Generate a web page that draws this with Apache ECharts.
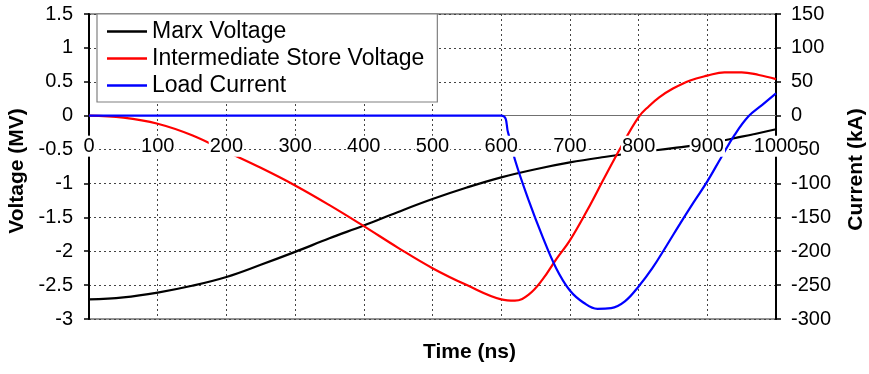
<!DOCTYPE html>
<html>
<head>
<meta charset="utf-8">
<script src="https://cdn.jsdelivr.net/npm/echarts@6/dist/echarts.min.js"></script>
<style>
  html, body { margin: 0; padding: 0; background: #fff; }
  #chart { width: 869px; height: 374px; }
</style>
</head>
<body>
<div id="chart"></div>
<script>
// Time base (ns) and traces
const timeTicks = [0, 100, 200, 300, 400, 500, 600, 700, 800, 900, 1000];
const voltageTicks = [-3, -2.5, -2, -1.5, -1, -0.5, 0, 0.5, 1, 1.5];
const currentTicks = [-300, -250, -200, -150, -100, -50, 0, 50, 100, 150];

const marxTime = [0, 50, 100, 150, 200, 250, 300, 350, 400, 450, 500, 550, 600, 650, 700, 750, 800, 850, 900, 950, 1000];
const marxVoltage = [-2.71, -2.68, -2.61, -2.51, -2.38, -2.20, -2.01, -1.81, -1.62, -1.42, -1.23, -1.06, -0.91, -0.79, -0.69, -0.61, -0.54, -0.48, -0.41, -0.31, -0.20];

const storeTime = [0, 50, 100, 150, 200, 250, 300, 350, 400, 450, 500, 550, 600, 620, 640, 660, 680, 700, 725, 750, 775, 800, 815, 830, 850, 875, 900, 925, 950, 975, 1000];
const storeVoltage = [0, -0.03, -0.12, -0.29, -0.53, -0.77, -1.03, -1.32, -1.63, -1.95, -2.25, -2.50, -2.71, -2.73, -2.64, -2.42, -2.12, -1.84, -1.40, -0.92, -0.45, -0.02, 0.14, 0.27, 0.40, 0.52, 0.59, 0.64, 0.64, 0.60, 0.54];

const loadTime = [0, 600, 610, 620, 640, 660, 680, 700, 720, 740, 760, 780, 800, 820, 840, 860, 880, 900, 920, 940, 960, 980, 1000];
const loadCurrent = [0, 0, -25, -65, -125, -178, -225, -258, -276, -285, -284, -274, -252, -225, -193, -160, -128, -97, -62, -28, -1, 16, 33];

const seriesNames = ['Marx Voltage', 'Intermediate Store Voltage', 'Load Current'];

function pairs(xs, ys) { return xs.map((x, i) => [x, ys[i]]); }

const FONT = 'Liberation Sans, Arial, sans-serif';
const gridDots = { show: true, lineStyle: { color: '#444', width: 1, type: [2, 3] } };

// plot box
const GRID = { left: 89, right: 93, top: 14, bottom: 55 };
const plotHeight = 374 - GRID.top - GRID.bottom;
const vMin = voltageTicks[0], vMax = voltageTicks[voltageTicks.length - 1];
// distance from the bottom edge up to the zero line, so time labels sit on it
const zeroLift = plotHeight * (0 - vMin) / (vMax - vMin);

const chart = echarts.init(document.getElementById('chart'), null, { renderer: 'canvas' });
chart.setOption({
  animation: false,
  backgroundColor: '#fff',
  textStyle: { fontFamily: FONT },
  grid: Object.assign({
    containLabel: false, outerBoundsMode: 'none',
    show: true, borderColor: '#707070', borderWidth: 1.5, backgroundColor: 'transparent'
  }, GRID),
  legend: {
    orient: 'vertical', left: 97, top: 14,
    backgroundColor: '#fff', borderColor: '#808080', borderWidth: 1.2,
    padding: [6, 13, 5, 10],
    icon: 'rect', itemWidth: 40, itemHeight: 2.5, itemGap: 4,
    textStyle: { fontFamily: FONT, fontSize: 23, lineHeight: 23, color: '#000' },
    data: seriesNames
  },
  xAxis: [
    {
      type: 'value', min: 0, max: 1000, interval: 100,
      axisLine: { show: true, onZero: true, lineStyle: { color: '#707070', width: 1.2 } },
      axisTick: { show: false }, axisLabel: { show: false },
      splitLine: gridDots
    },
    {
      type: 'value', min: 0, max: 1000, interval: 100, z: 10,
      position: 'bottom', offset: -zeroLift,
      axisLine: { show: false, onZero: false },
      axisTick: { show: false }, splitLine: { show: false },
      axisLabel: {
        margin: 20, fontFamily: FONT, fontSize: 20, color: '#000',
        backgroundColor: '#fff', padding: [1, 1, 0, 1],
        customValues: timeTicks,
        formatter: (v) => String(v)
      }
    }
  ],
  yAxis: [
    {
      type: 'value', min: vMin, max: vMax, interval: 0.5,
      name: 'Voltage (MV)', nameLocation: 'middle', nameGap: 57, nameRotate: 90,
      nameTextStyle: { fontFamily: FONT, fontSize: 21, fontWeight: 'bold', color: '#000', padding: [0, 9, 0, 0] },
      axisLine: { show: true, onZero: false, lineStyle: { color: '#000', width: 2 } },
      axisTick: { show: true, inside: false, length: 5, lineStyle: { color: '#000', width: 1.5 } },
      axisLabel: { margin: 16, fontFamily: FONT, fontSize: 20, color: '#000', customValues: voltageTicks },
      splitLine: gridDots
    },
    {
      type: 'value', position: 'right', min: -300, max: 150, interval: 50,
      name: 'Current (kA)', nameLocation: 'middle', nameGap: 70, nameRotate: 90,
      nameTextStyle: { fontFamily: FONT, fontSize: 21, fontWeight: 'bold', color: '#000', padding: [0, 6, 0, 0] },
      axisLine: { show: true, onZero: false, lineStyle: { color: '#000', width: 2 } },
      axisTick: { show: true, inside: false, length: 5, lineStyle: { color: '#000', width: 1.5 } },
      axisLabel: { margin: 15, fontFamily: FONT, fontSize: 20, color: '#000', customValues: currentTicks },
      splitLine: { show: false }
    }
  ],
  graphic: [{
    type: 'text', left: 423, top: 342,
    style: { text: 'Time (ns)', font: 'bold 21px ' + FONT, fill: '#000' }
  }],
  series: [
    {
      name: seriesNames[0], type: 'line', xAxisIndex: 0, yAxisIndex: 0,
      data: pairs(marxTime, marxVoltage), symbol: 'none', smooth: 0.4,
      lineStyle: { color: '#000', width: 2.2 }, itemStyle: { color: '#000' }
    },
    {
      name: seriesNames[1], type: 'line', xAxisIndex: 0, yAxisIndex: 0,
      data: pairs(storeTime, storeVoltage), symbol: 'none', smooth: 0.4,
      lineStyle: { color: '#ff0000', width: 2.2 }, itemStyle: { color: '#ff0000' }
    },
    {
      name: seriesNames[2], type: 'line', xAxisIndex: 0, yAxisIndex: 1,
      data: pairs(loadTime, loadCurrent), symbol: 'none', smooth: 0.4,
      lineStyle: { color: '#0000ff', width: 2.2 }, itemStyle: { color: '#0000ff' }
    }
  ]
});
</script>
</body>
</html>
